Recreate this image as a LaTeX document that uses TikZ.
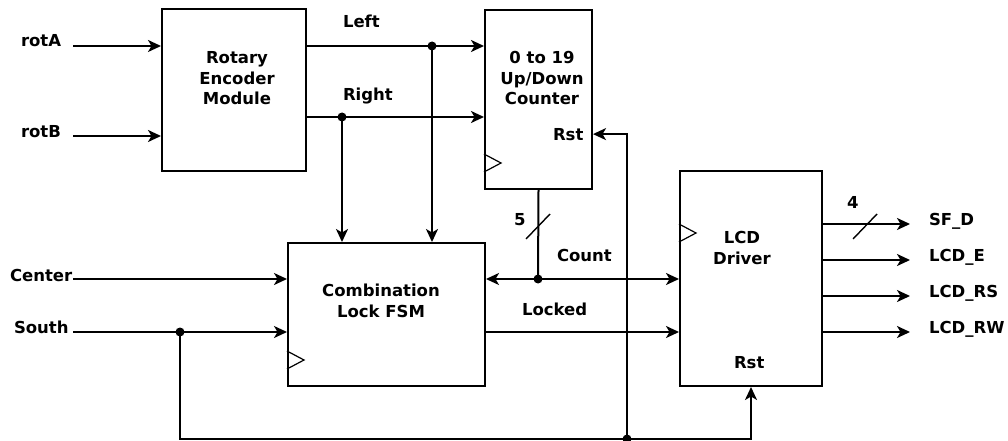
\documentclass[tikz,border=0pt]{standalone}
\usepackage{fontspec}
\setmainfont{DejaVu Sans}
\usetikzlibrary{arrows.meta, positioning, calc}

\tikzset{
    junction/.style={circle, fill, inner sep=0pt, minimum size=9pt},
    clk/.style={line width=1.2pt},
    bus/.style={line width=1.4pt}
}

\begin{document}
\begin{tikzpicture}[x=1pt, y=-1pt, line width=2pt,
    >={Stealth[length=13pt, width=12pt, inset=3.5pt]},
    every node/.style={font=\fontsize{16.5}{20.5}\selectfont\bfseries, inner sep=0pt}]
\useasboundingbox (0,0) rectangle (1008,441);

% blocks
\begin{scope}[every node/.style={draw, rectangle, line width=2pt}]
    \node[minimum width=144, minimum height=162] (enc) at (234,90) {};
    \node[minimum width=107, minimum height=179] (cnt) at (538.5,99.5) {};
    \node[minimum width=197, minimum height=143] (fsm) at (386.5,314.5) {};
    \node[minimum width=142, minimum height=215] (lcd) at (751,278.5) {};
\end{scope}

% block texts
\node[align=center, anchor=base] (enctxt) at (237,105) {Rotary\\Encoder\\Module};
\node[align=center, anchor=base] (cnttxt) at (542,105) {0 to 19\\Up/Down\\Counter};
\node[align=center, anchor=base] (fsmtxt) at (381,317) {Combination\\Lock FSM};
\node[align=center, anchor=base] (lcdtxt) at (742,264) {LCD\\Driver};
\node[anchor=base west] (cntrst) at (552,140) {Rst};
\node[anchor=base west] (lcdrst) at (733,368) {Rst};

% clock inputs
\draw[clk] (cnt.south west) ++(0,-18) -- ++(17,-9) -- ++(-17,-9);
\draw[clk] (fsm.south west) ++(0,-18) -- ++(17,-9) -- ++(-17,-9);
\draw[clk] (lcd.north west) ++(0,54) -- ++(17,9) -- ++(-17,9);

% signal labels
\node[anchor=base west] (rotA) at (20,47) {rotA};
\node[anchor=base west] (rotB) at (20,137) {rotB};
\node[anchor=base west] (center) at (9,281) {Center};
\node[anchor=base west] (south) at (13,333) {South};
\node[anchor=base west] (left) at (342,28) {Left};
\node[anchor=base west] (right) at (342,100) {Right};
\node[anchor=base west] (five) at (513,225) {5};
\node[anchor=base west] (count) at (556,261) {Count};
\node[anchor=base west] (locked) at (521,315) {Locked};
\node[anchor=base west] (four) at (846,208) {4};

% junctions
\node[junction] (ldot) at (432,46) {};
\node[junction] (rdot) at (342,117) {};
\node[junction] (sdot) at (180,332) {};
\node[junction] (cdot) at (538,279) {};
\node[junction] (rstdot) at (627,439) {};

\coordinate (rotAin) at (73,46);
\coordinate (rotBin) at (73,136);
\coordinate (centerin) at (73,279);
\coordinate (southin) at (73,332);
\coordinate (bl) at (180,439);

% inputs
\draw[->] (rotAin) -- (rotAin -| enc.west);
\draw[->] (rotBin) -- (rotBin -| enc.west);
\draw[->] (centerin) -- (centerin -| fsm.west);
\draw[->] (southin) -- (southin -| fsm.west);

% encoder outputs
\draw[->] (enc.east |- ldot) -- (cnt.west |- ldot);
\draw[->] (enc.east |- rdot) -- (cnt.west |- rdot);
\draw[->] (ldot.center) -- (ldot |- fsm.north);
\draw[->] (rdot.center) -- (rdot |- fsm.north);

% count bus
\draw (cnt.south) -- (cdot.center);
\draw[<->] (fsm.east |- cdot) -- (lcd.west |- cdot);
\draw[bus] (526,239) -- (550,214);

% locked
\draw[->] (fsm.east |- sdot) -- (lcd.west |- sdot);

% reset
\draw[->] (sdot.center) -- (bl) -| (lcd.south);
\draw[->] (rstdot.center) |- (cnt.east |- cntrst);

% outputs
\foreach \name/\y/\txt in {sfd/225/SF\_D, lcde/261/LCD\_E, lcdrs/297/LCD\_RS, lcdrw/333/LCD\_RW} {
    \node[anchor=base west] (\name) at (928,\y) {\txt};
    \coordinate (\name end) at (910,\y-1);
    \draw[->] (lcd.east |- \name end) -- (\name end);
}
\draw[bus] (853,239) -- (877,214);
\end{tikzpicture}
\end{document}
